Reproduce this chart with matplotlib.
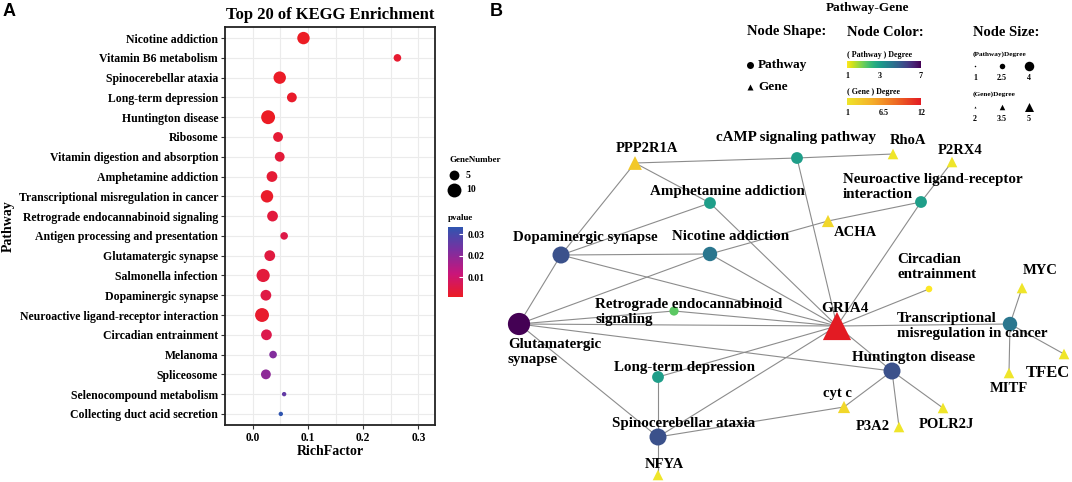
import matplotlib
matplotlib.use("Agg")
import matplotlib.pyplot as plt
import numpy as np
from matplotlib.colors import LinearSegmentedColormap, Normalize, FuncNorm

SERIF = "Liberation Serif"
SANS = "Liberation Sans"
W, H = 1072, 482

# ---------------- panel A: top 20 KEGG pathways (top -> bottom) ----------------
pathways = ["Nicotine addiction", "Vitamin B6 metabolism", "Spinocerebellar ataxia",
            "Long-term depression", "Huntington disease", "Ribosome",
            "Vitamin digestion and absorption", "Amphetamine addiction",
            "Transcriptional misregulation in cancer",
            "Retrograde endocannabinoid signaling",
            "Antigen processing and presentation", "Glutamatergic synapse",
            "Salmonella infection", "Dopaminergic synapse",
            "Neuroactive ligand-receptor interaction", "Circadian entrainment",
            "Melanoma", "Spliceosome", "Selenocompound metabolism",
            "Collecting duct acid secretion"]
rich_factor = [0.092, 0.262, 0.049, 0.071, 0.028, 0.046, 0.049, 0.035, 0.026, 0.036,
               0.057, 0.031, 0.019, 0.024, 0.017, 0.025, 0.037, 0.024, 0.057, 0.051]
gene_number = [8, 3, 8, 5, 10, 5, 5, 6, 8, 6, 3, 6, 9, 6, 10, 6, 3, 5, 1, 1]
pvalue = [0.0008, 0.0025, 0.0012, 0.0018, 0.0009, 0.0030, 0.0035, 0.0030, 0.0016, 0.0040,
          0.0055, 0.0045, 0.0038, 0.0050, 0.0020, 0.0060, 0.0215, 0.0200, 0.0260, 0.0335]
size_legend = [5, 10]
p_ticks = [0.01, 0.02, 0.03]
x_ticks = [0.0, 0.1, 0.2, 0.3]

# ---------------- panel B: pathway-gene network ----------------
pw_keys = ["Glut", "Dopa", "Amph", "Nico", "cAMP", "Neuro", "Circ", "Retro",
           "LTD", "Spino", "Hunt", "Trans"]
pw_labels = ["Glutamatergic\nsynapse", "Dopaminergic synapse", "Amphetamine addiction",
             "Nicotine addiction", "cAMP signaling pathway",
             "Neuroactive ligand-receptor\ninteraction", "Circadian\nentrainment",
             "Retrograde endocannabinoid\nsignaling", "Long-term depression",
             "Spinocerebellar ataxia", "Huntington disease",
             "Transcriptional\nmisregulation in cancer"]
pw_degree = [7, 5, 3, 4, 3, 3, 1, 2, 3, 5, 5, 4]
# layout (pixel space of the figure)
pw_x = [519, 561, 710, 710, 797, 921, 929, 674, 658, 658, 892, 1010]
pw_y = [324, 255, 203, 254, 158, 202, 289, 311, 377, 437, 371, 324]
pw_lab_dx = [-11, 24, 17, 21, -1, -78, -32, -79, 26, 26, 22, -113]
pw_lab_dy = [28, -18, -11, -17, -21, -15, -22, 1, -10, -14, -14, 2]
pw_lab_ha = ["left", "center", "center", "center", "center", "left", "left", "left",
             "center", "center", "center", "left"]

gene_keys = ["GRIA4", "PPP2R1A", "RhoA", "P2RX4", "ACHA", "NFYA", "cyt c", "P3A2",
             "POLR2J", "MYC", "MITF", "TFEC"]
gene_degree = [12, 3, 1, 1, 2, 1, 2, 1, 1, 1, 1, 1]
gene_x = [837, 635, 893, 952, 828, 658, 844, 899, 943, 1022, 1009, 1064]
gene_y = [326, 163, 154, 162, 221, 475, 407, 427, 408, 288, 373, 354]
gene_lab_dx = [8, 12, 15, 8, 27, 6, -7, -26, 3, 18, 0, -16]
gene_lab_dy = [-18, -15, -14, -11, 12, -11, -13, 0, 16, -18, 16, 19]
gene_lab_fs = [11, 10.5, 10.5, 10.5, 10.5, 10.5, 10.5, 10.5, 10.5, 10.5, 10.5, 12]

edges = [("Glut", "Dopa"), ("Glut", "Retro"), ("Glut", "Nico"), ("Glut", "GRIA4"),
         ("Glut", "Hunt"), ("Glut", "Spino"), ("Dopa", "PPP2R1A"), ("Dopa", "Amph"),
         ("Dopa", "Nico"), ("Dopa", "GRIA4"), ("PPP2R1A", "cAMP"), ("PPP2R1A", "Amph"),
         ("Amph", "GRIA4"), ("cAMP", "RhoA"), ("cAMP", "GRIA4"), ("Nico", "ACHA"),
         ("ACHA", "Neuro"), ("Nico", "GRIA4"), ("Neuro", "P2RX4"), ("Neuro", "GRIA4"),
         ("Circ", "GRIA4"), ("Retro", "GRIA4"), ("GRIA4", "Trans"), ("GRIA4", "Hunt"),
         ("GRIA4", "LTD"), ("GRIA4", "Spino"), ("LTD", "Spino"), ("Spino", "NFYA"),
         ("Spino", "cyt c"), ("Hunt", "cyt c"), ("Hunt", "P3A2"), ("Hunt", "POLR2J"),
         ("Trans", "MYC"), ("Trans", "MITF"), ("Trans", "TFEC")]

pw_color_ticks = [1, 3, 7]
gene_color_ticks = [1, 6.5, 12]
pw_size_ticks = [1, 2.5, 4]
gene_size_ticks = [2, 3.5, 5]


def px2pt(d):
    # diameter in pixels -> scatter size (pt^2) at dpi 100
    return (d * 0.72) ** 2


pcmap = LinearSegmentedColormap.from_list(
    "pv", ["#EC1C24", "#C9157A", "#7B2FA0", "#2F55B0"])
pnorm = Normalize(min(pvalue), max(pvalue))
pw_cmap = plt.get_cmap("viridis_r")
pw_norm = FuncNorm((np.sqrt, np.square), vmin=1, vmax=7)
gene_cmap = LinearSegmentedColormap.from_list(
    "gd", ["#EFE52A", "#F5B02A", "#EE6A24", "#E31B23"])
gene_norm = Normalize(1, 12)

fig = plt.figure(figsize=(W / 100, H / 100), dpi=100)

# overlay axes in pixel coordinates for panel B and free text
ov = fig.add_axes([0, 0, 1, 1])
ov.set_xlim(0, W)
ov.set_ylim(H, 0)
ov.axis("off")

# ---------------- panel A ----------------
ax = fig.add_axes([225 / W, 1 - 425 / H, 210 / W, 398 / H])
n = len(pathways)
ypos = np.arange(n)[::-1]
ax.scatter(rich_factor, ypos, s=[10 * g for g in gene_number],
           c=pvalue, cmap=pcmap, norm=pnorm, linewidths=0, zorder=3)
ax.set_xlim(-0.05, 0.33)
ax.set_ylim(-0.56, n - 1 + 0.56)
ax.set_yticks(ypos)
ax.set_yticklabels(pathways, fontfamily=SERIF, fontweight="bold", fontsize=8.5)
ax.set_xticks(x_ticks)
ax.set_xticklabels(["%.1f" % v for v in x_ticks], fontfamily=SERIF,
                   fontweight="bold", fontsize=8.3)
ax.set_xticks(np.arange(-0.05, 0.34, 0.05), minor=True)
ax.grid(True, which="both", color="#EBEBEB", lw=0.8, zorder=0)
ax.set_axisbelow(True)
ax.tick_params(axis="both", which="major", length=3, color="#333333", width=0.8, pad=2)
ax.tick_params(axis="x", which="minor", length=0)
for sp in ax.spines.values():
    sp.set_linewidth(1.3)
    sp.set_color("#222222")
ax.set_xlabel("RichFactor", fontfamily=SERIF, fontweight="bold", fontsize=10, labelpad=1)
ax.set_ylabel("Pathway", fontfamily=SERIF, fontweight="bold", fontsize=10)
ax.yaxis.set_label_coords((15 - 225) / 210, 0.5)
ax.set_title("Top 20 of KEGG Enrichment", fontfamily=SERIF, fontweight="bold",
             fontsize=12, pad=6)

# GeneNumber legend
ov.text(449, 160, "GeneNumber", fontfamily=SERIF, fontweight="bold", fontsize=6.5,
        ha="left", va="center")
for k, g in enumerate(size_legend):
    yy = 175 + 15 * k
    ov.scatter([454], [yy], s=10 * g, color="black", linewidths=0)
    ov.text(466, yy, str(g), fontfamily=SERIF, fontweight="bold", fontsize=7,
            ha="left", va="center")
ov.text(448, 218, "pvalue", fontfamily=SERIF, fontweight="bold", fontsize=6.5,
        ha="left", va="center")
cax = fig.add_axes([448 / W, 1 - 297 / H, 15 / W, 70 / H])
cb = fig.colorbar(plt.cm.ScalarMappable(norm=pnorm, cmap=pcmap), cax=cax)
cb.outline.set_visible(False)
cb.set_ticks(p_ticks)
cb.ax.tick_params(length=3, color="white", width=0.8, direction="in", pad=3)
cb.ax.set_yticklabels(["%.2f" % v for v in p_ticks], fontfamily=SERIF,
                      fontweight="bold", fontsize=7)

# panel letters
ov.text(3, 12, "A", fontfamily=SANS, fontweight="bold", fontsize=13, ha="left", va="center")
ov.text(490, 12, "B", fontfamily=SANS, fontweight="bold", fontsize=13, ha="left", va="center")

# ---------------- panel B: network ----------------
pos = {}
for k, x, y in zip(pw_keys, pw_x, pw_y):
    pos[k] = (x, y)
for k, x, y in zip(gene_keys, gene_x, gene_y):
    pos[k] = (x, y)

for a, b in edges:
    (x0, y0), (x1, y1) = pos[a], pos[b]
    ov.plot([x0, x1], [y0, y1], color="#8C8C8C", lw=0.8, zorder=1)

pw_d = [4 + 2.6 * d for d in pw_degree]
ov.scatter(pw_x, pw_y, s=[px2pt(d) for d in pw_d], c=pw_degree, cmap=pw_cmap,
           norm=pw_norm, marker="o", linewidths=0, zorder=3)
gene_w = [9 + 1.6 * d for d in gene_degree]
ov.scatter(gene_x, gene_y, s=[px2pt(w) for w in gene_w], c=gene_degree,
           cmap=gene_cmap, norm=gene_norm, marker="^", linewidths=0, zorder=3)

for lab, x, y, dx, dy, ha in zip(pw_labels, pw_x, pw_y, pw_lab_dx, pw_lab_dy, pw_lab_ha):
    ov.text(x + dx, y + dy, lab, fontfamily=SERIF, fontweight="bold", fontsize=10.8,
            ha=ha, va="center", linespacing=1.2, zorder=4)
for lab, x, y, dx, dy, fs in zip(gene_keys, gene_x, gene_y, gene_lab_dx,
                                 gene_lab_dy, gene_lab_fs):
    ov.text(x + dx, y + dy, lab, fontfamily=SERIF, fontweight="bold", fontsize=fs,
            ha="center", va="center", zorder=4)

# ---------------- network legend ----------------
def ltxt(x, y, s, fs, ha="left"):
    ov.text(x, y, s, fontfamily=SERIF, fontweight="bold", fontsize=fs, ha=ha, va="center")


ltxt(867, 8, "Pathway-Gene", 9.5, "center")
ltxt(747, 32, "Node Shape:", 10.5)
ltxt(847, 32, "Node Color:", 10.5)
ltxt(973, 32, "Node Size:", 10.5)

ov.scatter([750], [65], s=px2pt(7), color="black", marker="o", linewidths=0)
ltxt(758, 65, "Pathway", 9.5)
ov.scatter([750], [87], s=px2pt(6), color="black", marker="^", linewidths=0)
ltxt(758, 87, "Gene", 9.5)

grad = np.linspace(0, 1, 256)[None, :]
bx0, bx1 = 847, 921
ltxt(bx0, 55, "( Pathway ) Degree", 5.8)
ov.imshow(pw_cmap(grad), extent=(bx0, bx1, 68, 61), aspect="auto", zorder=2)
for v in pw_color_ticks:
    ltxt(bx0 + float(pw_norm(v)) * (bx1 - bx0), 76, str(v), 5.8, "center")
ltxt(bx0, 92, "( Gene ) Degree", 5.8)
ov.imshow(gene_cmap(grad), extent=(bx0, bx1, 105, 98), aspect="auto", zorder=2)
for v in gene_color_ticks:
    ltxt(bx0 + float(gene_norm(v)) * (bx1 - bx0), 113, "%g" % v, 5.8, "center")

sx0, sx1 = 975, 1029
ltxt(973, 54, "(Pathway)Degree", 5.2)
for v in pw_size_ticks:
    f = (v - pw_size_ticks[0]) / (pw_size_ticks[-1] - pw_size_ticks[0])
    xx = sx0 + f * (sx1 - sx0)
    ov.scatter([xx], [66], s=px2pt(1.5 + 8 * f), color="black", marker="o", linewidths=0)
    ltxt(xx, 78, "%g" % v, 5.8, "center")
ltxt(973, 94, "(Gene)Degree", 5.2)
for v in gene_size_ticks:
    f = (v - gene_size_ticks[0]) / (gene_size_ticks[-1] - gene_size_ticks[0])
    xx = sx0 + f * (sx1 - sx0)
    ov.scatter([xx], [107], s=px2pt(2 + 7 * f), color="black", marker="^", linewidths=0)
    ltxt(xx, 119, "%g" % v, 5.8, "center")

ov.set_xlim(0, W)
ov.set_ylim(H, 0)

fig.savefig("out.png", dpi=100)
